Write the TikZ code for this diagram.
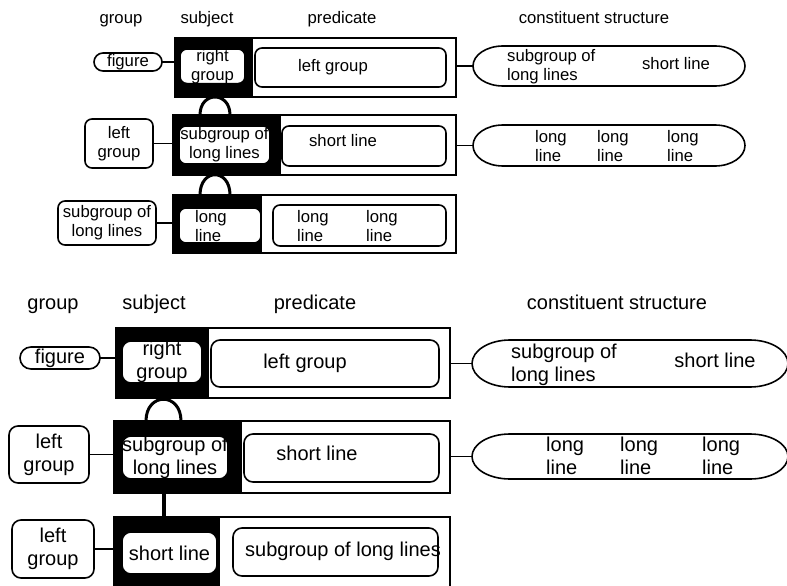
\documentclass[tikz,border=0pt]{standalone}
\usepackage{fontspec}
\setmainfont{Liberation Sans}
\usetikzlibrary{calc}

\newcommand{\capsulepath}[3]{%
  \draw[line width=1.6pt] ([xshift=#2]#1.north west) -- ([xshift=-#2]#1.north east)
    arc[start angle=90, end angle=-90, x radius=#2, y radius=#3]
    -- ([xshift=#2]#1.south west)
    arc[start angle=270, end angle=90, x radius=#2, y radius=#3] -- cycle;}

\begin{document}
\begin{tikzpicture}[x=1pt, y=-1pt,
    frame/.style={draw, line width=1.2pt, inner sep=0pt, outer sep=0pt, anchor=north west},
    subj/.style={fill=black, inner sep=0pt, outer sep=0pt, anchor=north west},
    box/.style={draw, fill=white, line width=1.6pt, rounded corners=7pt, inner sep=0pt,
                outer sep=0pt, anchor=north west, align=center},
    pod/.style={inner sep=0pt, outer sep=0pt, anchor=north west},
    sz/.style 2 args={minimum width=#1pt, minimum height=#2pt},
    txt/.style={align=left, inner sep=0pt, anchor=west},
    hd/.style={anchor=base},
    link/.style={line width=1.3pt},
    arch/.style={line width=3pt},
    stem/.style={line width=4pt}
  ]
  \useasboundingbox (0,0) rectangle (787,586);
  \clip (0,0) rectangle (787,586);
  \fill[white] (0,0) rectangle (787,586);

  \begin{scope}[font=\fontsize{16.7}{19}\selectfont]
    \node[hd] (uhg) at (121,24) {group};
    \node[hd] (uhs) at (207,24) {subject};
    \node[hd] (uhp) at (342,24) {predicate};
    \node[hd] (uhc) at (594,24) {constituent structure};

    \node[frame, sz={281}{59}] (u1) at (175,38) {};
    \node[subj, sz={78}{59}] (u1s) at (175,38) {};
    \node[box, sz={65}{34}] (u1sb) at (180,49) {right\\group};
    \node[box, sz={191}{39}] (u1p) at (255,48) {};
    \node (u1pt) at (333,67) {left group};
    \node[box, rounded corners=9pt, sz={68}{18}] (u1g) at (94,53) {figure};
    \node[pod, sz={272}{40}] (u1c) at (473,46) {};
    \capsulepath{u1c}{30pt}{20pt}
    \node[txt] (u1ca) at (507,67) {subgroup of\\long lines};
    \node (u1cb) at (676,64) {short line};
    \draw[link] (u1g.east) -- (u1g.east -| u1.west);
    \draw[link] (u1c.west) -- (u1c.west -| u1.east);

    \node[frame, sz={283}{60}] (u2) at (173,115) {};
    \node[subj, sz={108}{60}] (u2s) at (173,115) {};
    \node[box, sz={91}{38}] (u2sb) at (179,126) {subgroup of\\long lines};
    \node[box, sz={164}{40}] (u2p) at (282,126) {};
    \node (u2pt) at (343,141) {short line};
    \node[box, sz={68}{49}] (u2g) at (85,119) {left\\group};
    \node[pod, sz={272}{41}] (u2c) at (473,125) {};
    \capsulepath{u2c}{30pt}{20.5pt}
    \foreach \x/\n in {535/a,597/b,667/c}
      \node[txt] (u2c\n) at (\x,146) {long\\line};
    \draw[link] (u2g.east) -- (u2g.east -| u2.west);
    \draw[link] (u2c.west) -- (u2c.west -| u2.east);
    \draw[arch] ($(u2.north west)+(27,0)$) .. controls +(0,-24) and +(0,-24) .. ($(u2.north west)+(57,0)$);

    \node[frame, sz={283}{58}] (u3) at (173,195) {};
    \node[subj, sz={89}{58}] (u3s) at (173,195) {};
    \node[box, sz={82}{35}] (u3sb) at (179,208) {};
    \node[txt] (u3st) at (195,226) {long\\line};
    \node[box, sz={173}{41}] (u3p) at (273,205) {};
    \foreach \x/\n in {297/a,366/b}
      \node[txt] (u3p\n) at (\x,226) {long\\line};
    \node[box, sz={98}{44}] (u3g) at (58,201) {subgroup of\\long lines};
    \draw[link] (u3g.east) -- (u3g.east -| u3.west);
    \draw[arch] ($(u3.north west)+(27,0)$) .. controls +(0,-27) and +(0,-27) .. ($(u3.north west)+(57,0)$);
  \end{scope}

  \begin{scope}[font=\fontsize{20}{23}\selectfont]
    \node[hd] (lhg) at (53,309) {group};
    \node[hd] (lhs) at (154,309) {subject};
    \node[hd] (lhp) at (315,309) {predicate};
    \node[hd] (lhc) at (617,309) {constituent structure};

    \node[frame, sz={334}{70}] (l1) at (116,328) {};
    \node[subj, sz={93}{70}] (l1s) at (116,328) {};
    \node[box, rounded corners=9pt, sz={80}{42}] (l1sb) at (122,341) {right\\group};
    \node[box, rounded corners=9pt, sz={228}{47}] (l1p) at (211,340) {};
    \node (l1pt) at (305,363) {left group};
    \node[box, rounded corners=11pt, sz={80}{22}] (l1g) at (20,347) {figure};
    \node[pod, sz={316}{47}] (l1c) at (472,340) {};
    \capsulepath{l1c}{38pt}{23.5pt}
    \node[txt] (l1ca) at (511,365) {subgroup of\\long lines};
    \node (l1cb) at (715,360) {short line};
    \draw[link] (l1g.east) -- (l1g.east -| l1.west);
    \draw[link] (l1c.west) -- (l1c.west -| l1.east);

    \node[frame, sz={336}{72}] (l2) at (114,421) {};
    \node[subj, sz={128}{72}] (l2s) at (114,421) {};
    \node[box, rounded corners=9pt, sz={106}{43}] (l2sb) at (122,436) {subgroup of\\long lines};
    \node[box, rounded corners=9pt, sz={195}{48}] (l2p) at (244,434) {};
    \node (l2pt) at (317,453) {short line};
    \node[box, rounded corners=9pt, sz={80}{57}] (l2g) at (9,426) {left\\group};
    \node[pod, sz={316}{45}] (l2c) at (472,434) {};
    \capsulepath{l2c}{38pt}{22.5pt}
    \foreach \x/\n in {546/a,620/b,702/c}
      \node[txt] (l2c\n) at (\x,456) {long\\line};
    \draw[link] (l2g.east) -- (l2g.east -| l2.west);
    \draw[link] (l2c.west) -- (l2c.west -| l2.east);
    \draw[arch] ($(l2.north west)+(32,0)$) .. controls +(0,-29) and +(0,-29) .. ($(l2.north west)+(67,0)$);

    \node[frame, sz={336}{75}] (l3) at (114,517) {};
    \node[subj, sz={106}{75}] (l3s) at (114,517) {};
    \node[box, rounded corners=9pt, sz={95}{42}] (l3sb) at (122,532) {short line};
    \node[box, rounded corners=9pt, sz={205}{48}] (l3p) at (233,528) {};
    \node (l3pt) at (343,551) {subgroup of long lines};
    \node[box, rounded corners=9pt, sz={82}{58}] (l3g) at (12,520) {left\\group};
    \draw[link] (l3g.east) -- (l3g.east -| l3.west);
    \draw[stem] ($(l2.south west)+(50,0)$) -- ($(l3.north west)+(50,0)$);
  \end{scope}
\end{tikzpicture}
\end{document}
